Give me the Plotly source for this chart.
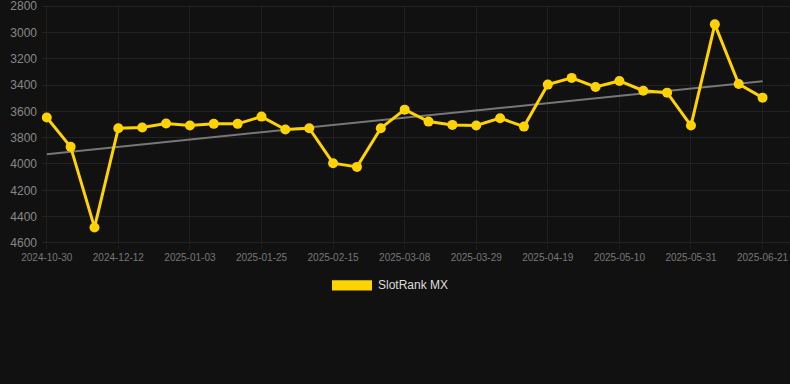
import numpy as np
import plotly.graph_objects as go

dates = [
    "2024-10-30", "2024-11-13", "2024-11-27", "2024-12-12", "2024-12-19",
    "2024-12-26", "2025-01-03", "2025-01-10", "2025-01-17", "2025-01-25",
    "2025-02-01", "2025-02-08", "2025-02-15", "2025-02-22", "2025-03-01",
    "2025-03-08", "2025-03-15", "2025-03-22", "2025-03-29", "2025-04-05",
    "2025-04-12", "2025-04-19", "2025-04-26", "2025-05-03", "2025-05-10",
    "2025-05-17", "2025-05-24", "2025-05-31", "2025-06-07", "2025-06-14",
    "2025-06-21",
]
rank = [
    3647, 3870, 4482, 3728, 3723, 3693, 3708, 3695, 3695, 3640,
    3738, 3728, 3994, 4022, 3728, 3587, 3678, 3703, 3708, 3652,
    3716, 3397, 3346, 3415, 3369, 3443, 3458, 3708, 2939, 3392,
    3496,
]
tick_labels = dates[::3]
series_name = "SlotRank MX"

idx = np.arange(len(rank))
slope, intercept = np.polyfit(idx, rank, 1)
trend = [float(intercept + slope * i) for i in (idx[0], idx[-1])]
trend_x = [dates[0], dates[-1]]

BG = "#111111"
GOLD = "#FFD200"

fig = go.Figure()
fig.add_trace(go.Scatter(
    x=trend_x, y=trend, mode="lines",
    line=dict(color="#777777", width=2),
    showlegend=False, hoverinfo="skip",
))
fig.add_trace(go.Scatter(
    x=dates, y=rank, mode="lines+markers", name=series_name,
    line=dict(color=GOLD, width=3),
    marker=dict(color=GOLD, size=10),
    showlegend=False,
))

fig.update_layout(
    width=790, height=384,
    paper_bgcolor=BG, plot_bgcolor=BG,
    margin=dict(l=42, r=0, t=5, b=140),
    font=dict(family="Liberation Sans, Arial, sans-serif", color="#888888"),
    showlegend=False,
    xaxis=dict(
        type="category",
        categoryorder="array", categoryarray=dates,
        range=[-0.2, 31.15],
        tickmode="array", tickvals=tick_labels, ticktext=tick_labels,
        tickfont=dict(size=10, color="#777777"),
        showgrid=True, gridcolor="#1f1f1f", gridwidth=1,
        zeroline=False, showline=False,
        ticks="outside", ticklen=4, tickcolor="#1f1f1f",
    ),
    yaxis=dict(
        range=[4608, 2792],
        tickmode="linear", tick0=2800, dtick=200,
        tickfont=dict(size=12, color="#888888"),
        ticklabeloverflow="allow",
        showgrid=True, gridcolor="#222222", gridwidth=1,
        zeroline=False, showline=False,
        ticks="", ticklabelstandoff=4,
    ),
    shapes=[dict(
        type="rect", xref="paper", yref="paper",
        x0=0.3877, x1=0.4412, y0=-0.1941, y1=-0.1519,
        fillcolor=GOLD, line=dict(width=0),
    )],
    annotations=[dict(
        text=series_name, xref="paper", yref="paper",
        x=0.4465, y=-0.1730, xanchor="left", yanchor="middle",
        showarrow=False, font=dict(size=12, color="#dddddd"),
    )],
)

fig.write_html(
    "out.html",
    config={"displayModeBar": False},
    post_script="document.body.style.margin='0';document.body.style.background='#111111';",
)
